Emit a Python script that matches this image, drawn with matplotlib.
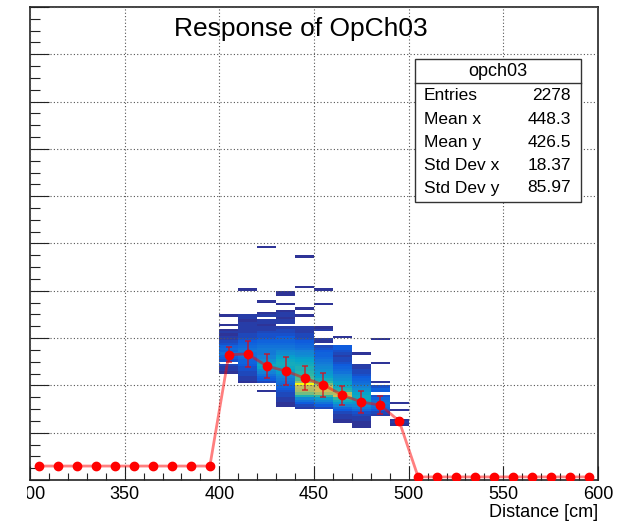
import numpy as np
import matplotlib.pyplot as plt
from matplotlib.colors import LinearSegmentedColormap
from matplotlib.patches import Rectangle
from matplotlib.lines import Line2D
from matplotlib.transforms import Bbox, TransformedBbox

plt.rcParams['font.family'] = ['Liberation Sans', 'DejaVu Sans']

title = "Response of OpCh03"
hist_name = "opch03"
stat_labels = ["Entries", "Mean x", "Mean y", "Std Dev x", "Std Dev y"]
stat_values = ["2278", "448.3", "426.5", "18.37", "85.97"]

x_edges = np.arange(300, 601, 10)
y_edges = np.arange(0, 2001, 10)

# 2D histogram counts, one dict per x column: {y bin index (width 10): entries}
col_400 = {69: 1, 65: 1, 63: 1, 62: 2, 61: 1, 60: 2, 59: 2, 58: 3, 57: 4, 56: 6, 55: 7,
           54: 6, 53: 8, 52: 6, 51: 5, 50: 4, 48: 3, 47: 2, 46: 2, 45: 1}
col_410 = {80: 1, 69: 2, 68: 2, 67: 1, 66: 2, 65: 2, 64: 2, 63: 2, 62: 2, 61: 3, 60: 3,
           59: 4, 58: 5, 57: 6, 56: 7, 55: 8, 54: 9, 53: 8, 52: 8, 51: 7, 50: 6, 49: 6,
           48: 5, 47: 4, 46: 4, 45: 3, 44: 3, 43: 2, 42: 2, 41: 1}
col_420 = {98: 1, 75: 1, 70: 1, 69: 2, 67: 2, 66: 2, 65: 1, 64: 2, 63: 2, 62: 3, 61: 4,
           60: 4, 59: 5, 58: 6, 57: 7, 56: 8, 55: 9, 54: 9, 53: 9, 52: 10, 51: 10,
           50: 12, 49: 14, 48: 16, 47: 15, 46: 12, 45: 10, 44: 8, 43: 6, 42: 5, 41: 3, 37: 1}
col_430 = {79: 1, 78: 1, 74: 1, 71: 1, 70: 2, 69: 2, 68: 1, 67: 2, 66: 2, 64: 2, 63: 3,
           62: 3, 61: 4, 60: 5, 59: 6, 58: 6, 57: 7, 56: 8, 55: 9, 54: 11, 53: 12,
           52: 14, 51: 15, 50: 16, 49: 17, 48: 17, 47: 16, 46: 15, 45: 14, 44: 12,
           43: 10, 42: 9, 41: 8, 40: 7, 39: 6, 38: 5, 37: 4, 36: 3, 35: 3, 34: 2,
           33: 2, 32: 1, 31: 1}
col_440 = {94: 1, 81: 1, 72: 1, 69: 1, 64: 2, 63: 2, 62: 2, 61: 3, 60: 3, 59: 4, 58: 5,
           57: 6, 56: 7, 55: 8, 54: 10, 53: 11, 52: 12, 51: 14, 50: 15, 49: 16, 48: 17,
           47: 18, 46: 18, 45: 19, 44: 20, 43: 21, 42: 22, 41: 26, 40: 40, 39: 29,
           38: 28, 37: 27, 36: 24, 35: 18, 34: 11, 33: 8, 32: 5, 31: 3, 30: 2}
col_450 = {80: 1, 74: 1, 64: 1, 63: 2, 59: 2, 58: 1, 56: 3, 55: 4, 54: 5, 53: 6, 52: 6,
           51: 7, 50: 8, 49: 9, 48: 10, 47: 11, 46: 12, 45: 13, 44: 14, 43: 15,
           42: 17, 41: 20, 40: 24, 39: 29, 38: 30, 37: 30, 36: 27, 35: 20, 34: 14,
           33: 11, 32: 8, 31: 5, 30: 3}
col_460 = {60: 1, 56: 5, 55: 5, 54: 4, 53: 3, 52: 2, 51: 3, 50: 3, 49: 4, 48: 5, 47: 6,
           46: 7, 45: 8, 44: 10, 43: 11, 42: 12, 41: 14, 40: 15, 39: 16, 38: 18,
           37: 20, 36: 28, 35: 30, 34: 20, 33: 17, 32: 14, 31: 10, 30: 7, 29: 5,
           28: 3, 27: 2, 26: 2, 25: 1, 24: 1}
col_470 = {53: 1, 48: 2, 47: 2, 46: 3, 45: 3, 44: 4, 43: 5, 42: 6, 41: 7, 40: 8, 39: 10,
           38: 12, 37: 13, 36: 15, 35: 16, 34: 16, 33: 15, 32: 13, 31: 11, 30: 9,
           29: 7, 28: 4, 27: 3, 26: 2, 25: 2, 24: 1, 23: 1, 22: 1}
col_480 = {59: 1, 49: 1, 41: 1, 39: 4, 38: 6, 37: 5, 35: 4, 34: 6, 33: 8, 32: 9, 31: 8,
           30: 7, 29: 5, 28: 3, 27: 2}
col_490 = {32: 1, 29: 1, 25: 1, 24: 2, 23: 1}

col_starts = [400, 410, 420, 430, 440, 450, 460, 470, 480, 490]
columns = [col_400, col_410, col_420, col_430, col_440,
           col_450, col_460, col_470, col_480, col_490]

# profile (mean y per x bin)
prof_x = np.arange(305, 600, 10)
prof_y = [59] * 10 + [530, 533, 482, 461, 431, 402, 359, 330, 317, 249] + [13] * 10
prof_err = [6] * 10 + [33, 56, 49, 60, 51, 52, 40, 45, 38, 15] + [6] * 10

# ROOT kBird palette
stops = [0.0, 0.125, 0.25, 0.375, 0.5, 0.625, 0.75, 0.875, 1.0]
red = [0.2082, 0.0592, 0.0780, 0.0232, 0.1802, 0.5301, 0.8186, 0.9956, 0.9764]
green = [0.1664, 0.3599, 0.5041, 0.6419, 0.7178, 0.7492, 0.7328, 0.7862, 0.9832]
blue = [0.5293, 0.8684, 0.8385, 0.7914, 0.6425, 0.4662, 0.3499, 0.1968, 0.0539]
bird = LinearSegmentedColormap.from_list(
    "bird", list(zip(stops, zip(red, green, blue))))

counts = np.zeros((len(y_edges) - 1, len(x_edges) - 1))
for x0, col in zip(col_starts, columns):
    ix = (x0 - 300) // 10
    for iy, n in col.items():
        counts[iy, ix] = n

fig = plt.figure(figsize=(6.28, 5.27), dpi=100)
ax = fig.add_axes([30 / 628, 1 - 480 / 527, 568 / 628, 473 / 527])

ax.pcolormesh(x_edges, y_edges, np.ma.masked_equal(counts, 0), cmap=bird,
              vmin=0, vmax=counts.max(), zorder=1)

ax.set_xlim(300, 600)
ax.set_ylim(0, 2000)
ax.set_xticks(np.arange(300, 601, 50))
ax.set_xticks(np.arange(300, 601, 10), minor=True)
ax.set_yticks(np.arange(0, 2001, 200))
ax.set_yticks(np.arange(0, 2001, 50), minor=True)
ax.grid(True, which='major', color='#555555', linestyle=(0, (1, 2)), lw=0.8, zorder=2)
ax.set_axisbelow(False)

ax.tick_params(axis='x', which='major', direction='in', length=10, width=0.8,
               labelsize=13, pad=4, top=False, colors='#222222', labelcolor='black')
ax.tick_params(axis='x', which='minor', direction='in', length=5, width=0.8, top=False,
               colors='#222222')
ax.tick_params(axis='y', which='major', direction='in', length=14, width=0.8,
               labelleft=False, right=False, colors='#222222')
ax.tick_params(axis='y', which='minor', direction='in', length=7, width=0.8,
               right=False, colors='#222222')
for s in ax.spines.values():
    s.set_linewidth(1.2)
    s.set_color('#222222')

# clip tick labels at the left edge like the cropped original
clip = TransformedBbox(Bbox.from_extents(27 / 628, 0, 1, 1), fig.transFigure)
for t in ax.xaxis.get_major_ticks():
    t.label1.set_clip_on(True)
    t.label1.set_clip_box(clip)

ax.set_xlabel("Distance [cm]", loc='right', fontsize=13, labelpad=1)

# profile
ax.plot(prof_x, prof_y, color=(1, 0, 0, 0.5), lw=2.0, zorder=4)
ax.errorbar(prof_x, prof_y, yerr=prof_err, fmt='none', ecolor=(0.85, 0.05, 0.1, 0.65),
            elinewidth=1.4, capsize=2.5, capthick=1.4, zorder=5)
ax.plot(prof_x, prof_y, 'o', color='red', ms=6, zorder=6)

fig.text(301 / 628, 1 - 29 / 527, title, ha='center', va='center', fontsize=19)

# stats box
bx0, by0, bx1, by1 = 415, 59, 581, 202
fig.add_artist(Rectangle((bx0 / 628, 1 - by1 / 527), (bx1 - bx0) / 628,
                         (by1 - by0) / 527, transform=fig.transFigure,
                         facecolor='white', edgecolor='#333333', lw=1.0, zorder=10))
fig.add_artist(Line2D([bx0 / 628, bx1 / 628], [1 - 83 / 527, 1 - 83 / 527],
                      transform=fig.transFigure, color='#333333', lw=1.0, zorder=11))
fig.text((bx0 + bx1) / 2 / 628, 1 - 71 / 527, hist_name, ha='center', va='center',
         fontsize=13, zorder=12)
for i, (lab, val) in enumerate(zip(stat_labels, stat_values)):
    yy = 1 - (96 + 23 * i) / 527
    fig.text(424 / 628, yy, lab, ha='left', va='center', fontsize=12.5, zorder=12)
    fig.text(571 / 628, yy, val, ha='right', va='center', fontsize=12.5, zorder=12)

fig.savefig("out.png", dpi=100)
